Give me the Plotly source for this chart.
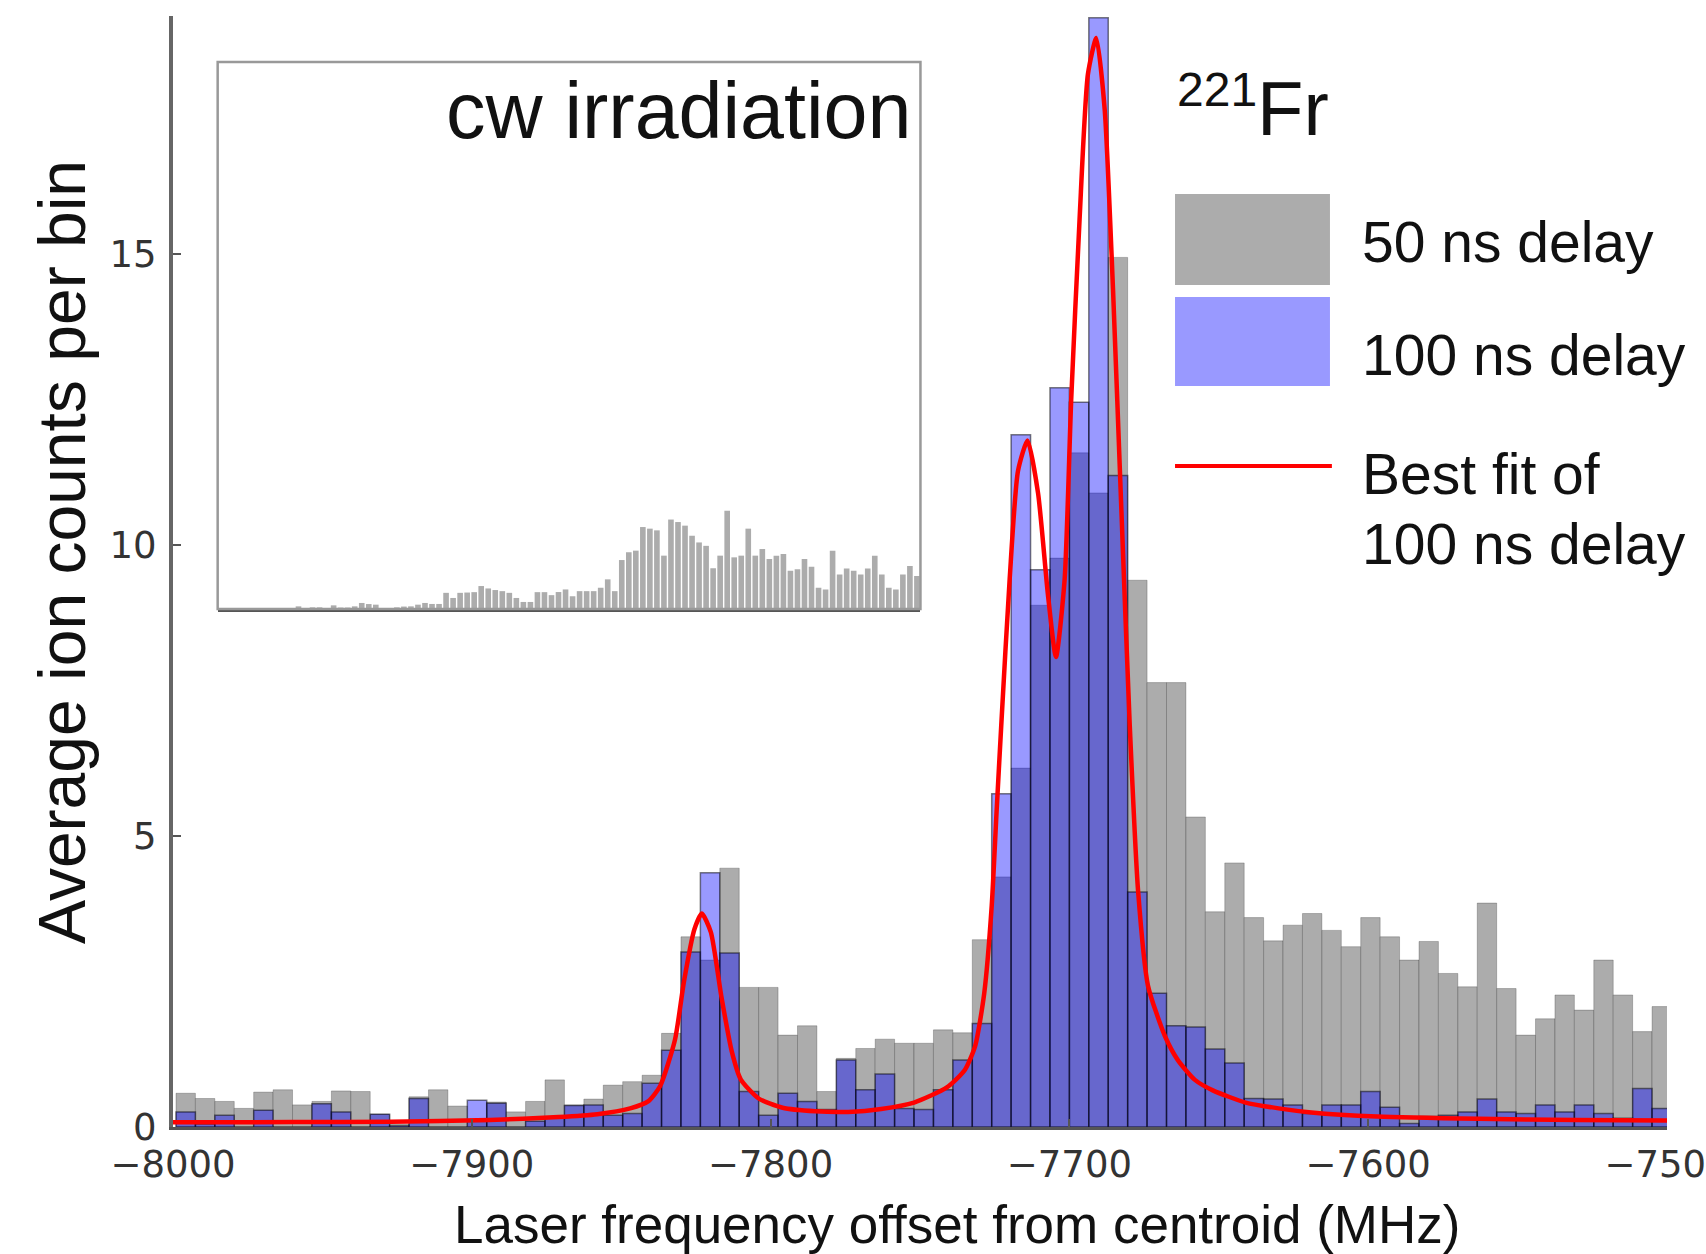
import numpy as np
import plotly.graph_objects as go

# ---------------- data ----------------
BIN_START = -7999.0   # MHz, left edge of first bin
BIN_WIDTH = 6.5       # MHz

counts_50ns = [
    0.58, 0.49, 0.44, 0.32, 0.60, 0.64, 0.38, 0.44, 0.62, 0.61,
    0.22, 0.05, 0.52, 0.64, 0.36, 0.08, 0.43, 0.26, 0.44, 0.81,
    0.38, 0.48, 0.72, 0.78, 0.89, 1.61, 3.27, 2.87, 4.45, 2.40,
    2.40, 1.58, 1.74, 0.61, 1.18, 1.35, 1.51, 1.44, 1.44, 1.67,
    1.62, 3.22, 4.30, 6.17, 8.97, 9.78, 11.59, 10.90, 14.95, 9.40,
    7.64, 7.64, 5.33, 3.70, 4.54, 3.60, 3.20, 3.47, 3.67, 3.38,
    3.10, 3.60, 3.27, 2.87, 3.19, 2.64, 2.41, 3.85, 2.38, 1.58,
    1.86, 2.27, 2.01, 2.87, 2.27, 1.64, 2.07]

counts_100ns = [
    0.26, 0.05, 0.20, 0.00, 0.29, 0.00, 0.00, 0.40, 0.26, 0.00,
    0.22, 0.02, 0.49, 0.00, 0.00, 0.46, 0.41, 0.00, 0.10, 0.15,
    0.37, 0.38, 0.20, 0.23, 0.75, 1.32, 3.01, 4.37, 2.99, 0.61,
    0.20, 0.58, 0.44, 0.30, 1.15, 0.64, 0.91, 0.32, 0.30, 0.64,
    1.15, 1.78, 5.73, 11.90, 9.58, 12.71, 12.46, 19.07, 11.20, 4.04,
    2.30, 1.74, 1.72, 1.34, 1.10, 0.49, 0.48, 0.38, 0.23, 0.38,
    0.38, 0.61, 0.34, 0.06, 0.18, 0.20, 0.26, 0.48, 0.26, 0.23,
    0.38, 0.26, 0.38, 0.23, 0.15, 0.66, 0.32]

fit_freq = [-8000, -7960, -7927, -7894, -7871, -7858, -7847, -7841, -7837, -7832,
            -7829, -7825.5, -7823, -7820, -7816.5, -7813, -7810, -7804, -7796, -7785,
            -7774, -7763, -7752, -7741, -7735, -7731.5, -7728.5, -7726, -7724.4, -7722.8,
            -7720, -7717.2, -7714, -7710.5, -7707.2, -7704.5, -7701.6, -7699.4, -7696.6, -7693.8,
            -7691, -7688.2, -7685.4, -7682.6, -7679.8, -7677, -7673.7, -7668, -7663.7, -7658,
            -7652, -7641, -7630, -7619, -7597, -7563, -7530, -7500]
fit_counts = [0.08, 0.085, 0.09, 0.12, 0.17, 0.22, 0.32, 0.44, 0.70, 1.50,
              2.50, 3.40, 3.67, 3.35, 2.25, 1.30, 0.82, 0.49, 0.33, 0.27,
              0.26, 0.31, 0.42, 0.68, 0.98, 1.40, 2.30, 3.80, 5.39, 6.91,
              9.41, 11.28, 11.80, 10.90, 9.16, 8.08, 9.41, 12.50, 15.60, 18.10,
              18.72, 17.50, 14.40, 10.60, 6.90, 4.05, 2.43, 1.56, 1.15, 0.81,
              0.63, 0.42, 0.32, 0.25, 0.18, 0.14, 0.12, 0.11]

# inset (cw irradiation), arbitrary units
cw_counts = [
    0, 0, 0, 0, 0, 0, 0, 0, 0, 0,
    0, 0.27, 0, 0.17, 0.17, 0, 0.37, 0.15, 0.15, 0.27,
    0.61, 0.50, 0.44, 0, 0.10, 0.17, 0.25, 0.27, 0.44, 0.61,
    0.51, 0.51, 1.62, 1.11, 1.62, 1.65, 1.69, 2.30, 2.06, 1.90,
    1.79, 1.62, 1.11, 0.71, 0.71, 1.69, 1.69, 1.39, 1.70, 1.96,
    1.28, 1.79, 1.79, 1.79, 2.13, 2.97, 1.79, 4.90, 5.68, 5.84,
    8.20, 8.04, 7.87, 5.34, 8.95, 8.70, 8.34, 7.33, 6.66, 6.32,
    4.08, 5.34, 9.83, 5.17, 5.34, 8.04, 5.34, 6.00, 5.00, 5.34,
    5.50, 3.82, 3.99, 5.00, 4.22, 2.13, 1.96, 5.84, 3.45, 4.05,
    3.82, 3.45, 4.05, 5.34, 3.45, 2.13, 1.96, 3.45, 4.30, 3.30]

x_ticks = [-8000, -7900, -7800, -7700, -7600, -7500]
y_ticks = [0, 5, 10, 15]

# ---------------- figure ----------------
centers = BIN_START + BIN_WIDTH * (np.arange(len(counts_50ns)) + 0.5)

fig = go.Figure()
fig.add_bar(x=centers, y=counts_50ns, width=BIN_WIDTH,
            marker=dict(color="rgb(172,172,172)",
                        line=dict(color="rgba(0,0,0,0.22)", width=1)),
            xaxis="x", yaxis="y", name="50 ns delay")
fig.add_bar(x=centers, y=counts_100ns, width=BIN_WIDTH,
            marker=dict(color="rgba(0,0,255,0.40)",
                        line=dict(color="rgba(0,0,0,0.5)", width=1.5)),
            xaxis="x", yaxis="y", name="100 ns delay")
fig.add_scatter(x=fit_freq, y=fit_counts, mode="lines",
                line=dict(color="#ff0000", width=4.5, shape="spline", smoothing=0.6),
                xaxis="x", yaxis="y", name="Best fit")

cw_x = np.arange(len(cw_counts)) + 0.5
fig.add_bar(x=cw_x, y=cw_counts, width=0.8,
            marker=dict(color="rgb(172,172,172)", line=dict(width=0)),
            xaxis="x2", yaxis="y2", name="cw")

tickfont = dict(family="DejaVu Sans", size=37, color="#333")
fig.update_layout(
    width=1706, height=1254,
    margin=dict(l=173, r=39, t=16, b=127, autoexpand=False),
    paper_bgcolor="white", plot_bgcolor="white",
    barmode="overlay", showlegend=False,
    xaxis=dict(range=[-8000, -7500], tickvals=x_ticks, ticks="inside", ticklen=8,
               tickwidth=2, tickcolor="#555", showline=True, linecolor="#555",
               linewidth=3, showgrid=False, zeroline=False, tickfont=tickfont,
               ticklabelstandoff=3, ticklabeloverflow="allow"),
    yaxis=dict(range=[0, 19.1], tickvals=y_ticks, ticks="inside", ticklen=8,
               tickwidth=2, tickcolor="#555", showline=True, linecolor="#666",
               linewidth=4, showgrid=False, zeroline=False, tickfont=tickfont,
               ticklabelstandoff=5),
    xaxis2=dict(domain=[0.0299, 0.5003], anchor="y2", range=[0, len(cw_counts)],
                showticklabels=False, ticks="", showline=True, linecolor="#555",
                linewidth=3, showgrid=False, zeroline=False),
    yaxis2=dict(domain=[0.4662, 0.9586], anchor="x2", range=[0, 54.7],
                showticklabels=False, ticks="", showline=False, showgrid=False,
                zeroline=False),
)

# inset frame
fig.add_shape(type="rect", xref="x2 domain", yref="y2 domain", x0=0, x1=1, y0=0, y1=1,
              line=dict(color="#999", width=2.5), fillcolor="rgba(0,0,0,0)")

# legend swatches (paper coords)
fig.add_shape(type="rect", xref="paper", yref="paper", x0=0.6707, x1=0.7744,
              y0=0.7579, y1=0.8398, line=dict(width=0), fillcolor="rgb(172,172,172)")
fig.add_shape(type="rect", xref="paper", yref="paper", x0=0.6707, x1=0.7744,
              y0=0.667, y1=0.7471, line=dict(width=0), fillcolor="rgb(153,153,255)")
fig.add_shape(type="line", xref="paper", yref="paper", x0=0.6707, x1=0.7757,
              y0=0.595, y1=0.595, line=dict(color="#ff0000", width=4))

txt = dict(family="Liberation Sans, Arial, sans-serif", color="#111")
ann = [
    dict(text="cw irradiation", x=0.495, y=0.915, xanchor="right", yanchor="middle",
         font=dict(size=79, **txt)),
    dict(text="221", x=0.671, y=0.9334, xanchor="left", yanchor="middle",
         font=dict(size=48, **txt)),
    dict(text="Fr", x=0.7240, y=0.9163, xanchor="left", yanchor="middle",
         font=dict(size=76, **txt)),
    dict(text="50 ns delay", x=0.7945, y=0.797, xanchor="left", yanchor="middle",
         font=dict(size=57, **txt)),
    dict(text="100 ns delay", x=0.7945, y=0.6949, xanchor="left", yanchor="middle",
         font=dict(size=57, **txt)),
    dict(text="Best fit of", x=0.7945, y=0.5878, xanchor="left", yanchor="middle",
         font=dict(size=57, **txt)),
    dict(text="100 ns delay", x=0.7945, y=0.5248, xanchor="left", yanchor="middle",
         font=dict(size=57, **txt)),
    dict(text="Laser frequency offset from centroid (MHz)", x=0.525, y=-0.088,
         xanchor="center", yanchor="middle", font=dict(size=53, **txt)),
    dict(text="Average ion counts per bin", x=-0.0743, y=0.5176, textangle=-90,
         xanchor="center", yanchor="middle", font=dict(size=66, **txt)),
]
for a in ann:
    fig.add_annotation(xref="paper", yref="paper", showarrow=False, **a)

fig.write_html("out.html",
               config={"displayModeBar": False},
               post_script="document.body.style.margin='0px';"
                           "document.body.style.overflow='hidden';")
